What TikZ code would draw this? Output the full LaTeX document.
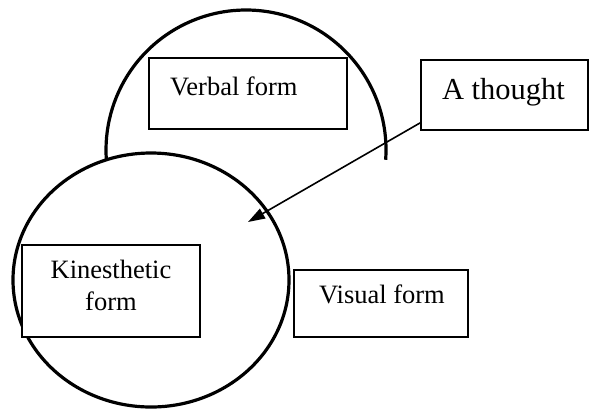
\documentclass[tikz,border=0pt]{standalone}
\usepackage{fontspec}
\setmainfont{Liberation Serif}
\usetikzlibrary{arrows.meta}
\begin{document}
\begin{tikzpicture}
	[
	x=1pt, y=-1pt,
	formbox/.style={rectangle, draw=black, line width=1.8pt, fill=white, inner sep=0pt},
	formtext/.style={font=\fontsize{26.5}{32}\selectfont, inner sep=0pt},
	outline/.style={draw=black, line width=3.2pt}
	]
		\useasboundingbox (0,0) rectangle (589,408);
		
		% circles
		\draw[outline] (246,150) ++(4:140) arc (4:-184:140);
		\draw[outline] (151,280) ellipse [x radius=138, y radius=127];
		
		% boxes
		\node[formbox, minimum width=198pt, minimum height=71pt] (verbal) at (248,93.5) {};
		\node[formbox, minimum width=167pt, minimum height=70pt] (thought) at (504.5,95) {};
		\node[formbox, minimum width=178pt, minimum height=92pt] (kines) at (111,291) {};
		\node[formbox, minimum width=174pt, minimum height=67pt] (visual) at (381,303.5) {};
		
		% labels
		\node[formtext, anchor=base west] (verbaltext) at (170,95) {Verbal form};
		\node[formtext, font=\fontsize{30.5}{36}\selectfont, anchor=base] (thoughttext) at (503.5,99.5) {A thought};
		\node[formtext, align=center] (kinestext) at (111,285) {Kinesthetic\\form};
		\node[formtext, anchor=base] (visualtext) at (382,303) {Visual form};
		
		% arrow
		\coordinate (tip) at (248,222);
		\draw[-{Triangle[length=17pt,width=11pt]}, line width=1.6pt] ([yshift=8pt]thought.south west) -- (tip);
	\end{tikzpicture}
\end{document}
